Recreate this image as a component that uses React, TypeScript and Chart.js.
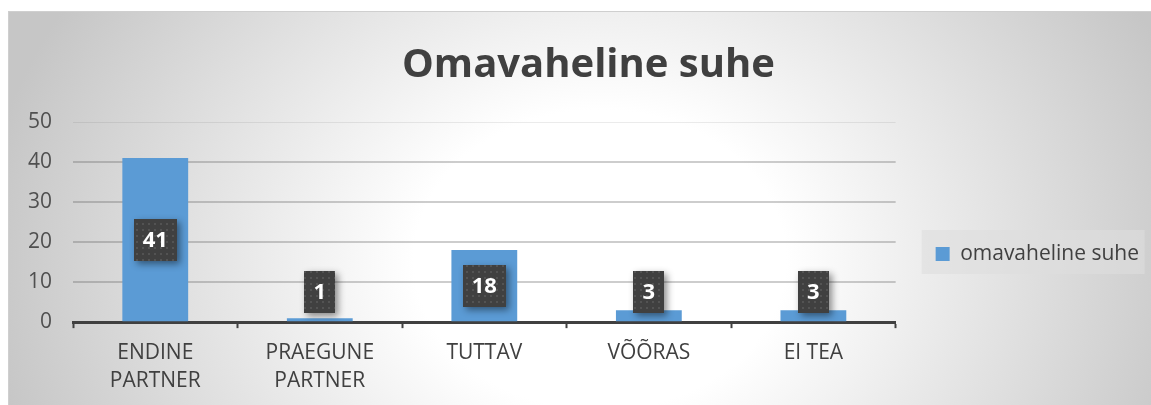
import React, { useEffect, useRef } from 'react';
import { Chart, registerables } from 'chart.js';

Chart.register(...registerables);

const titleText = 'Omavaheline suhe';
const seriesLabel = 'omavaheline suhe';
const categories: string[][] = [
  ['ENDINE', 'PARTNER'],
  ['PRAEGUNE', 'PARTNER'],
  ['TUTTAV'],
  ['VÕÕRAS'],
  ['EI TEA'],
];
const values: number[] = [41, 1, 18, 3, 3];
const yTicks: number[] = [0, 10, 20, 30, 40, 50];

const FONT = '"Open Sans", "DejaVu Sans", sans-serif';

function makePattern(ctx: CanvasRenderingContext2D) {
  const c = document.createElement('canvas');
  c.width = 6;
  c.height = 6;
  const p = c.getContext('2d')!;
  p.fillStyle = 'rgba(255,255,255,0.10)';
  p.fillRect(2, 2, 2, 2);
  return ctx.createPattern(c, 'repeat');
}

const legendBgPlugin = {
  id: 'legendBg',
  afterLayout(chart: any) {
    const l = chart.legend;
    if (!l) return;
    const target = 243;
    const shift = target - (l.top + l.bottom) / 2;
    l.top += shift;
    l.bottom += shift;
  },
  beforeDraw(chart: any) {
    const l = chart.legend;
    if (!l) return;
    const ctx = chart.ctx;
    const cy = (l.top + l.bottom) / 2;
    ctx.save();
    ctx.fillStyle = 'rgba(222,222,222,0.6)';
    ctx.fillRect(l.left + 26, cy - 24, 223, 44);
    ctx.restore();
  },
};

const boxLabelPlugin = {
  id: 'boxLabels',
  afterDatasetsDraw(chart: any) {
    const ctx: CanvasRenderingContext2D = chart.ctx;
    const meta = chart.getDatasetMeta(0);
    const pattern = makePattern(ctx);
    ctx.save();
    ctx.font = `bold 22px ${FONT}`;
    meta.data.forEach((bar: any, i: number) => {
      const text = String(chart.data.datasets[0].data[i]);
      const tw = ctx.measureText(text).width;
      const w = Math.round(tw + 18);
      const h = 42;
      const base = bar.base;
      let cy = (bar.y + base) / 2;
      cy = Math.min(cy, base - 8 - h / 2);
      const x = Math.round(bar.x - w / 2);
      const y = Math.round(cy - h / 2);
      ctx.save();
      ctx.shadowColor = 'rgba(0,0,0,0.45)';
      ctx.shadowBlur = 7;
      ctx.shadowOffsetX = 3;
      ctx.shadowOffsetY = 3;
      ctx.fillStyle = '#404040';
      ctx.fillRect(x, y, w, h);
      ctx.restore();
      if (pattern) {
        ctx.fillStyle = pattern;
        ctx.fillRect(x, y, w, h);
      }
      ctx.fillStyle = '#ffffff';
      ctx.textAlign = 'center';
      ctx.textBaseline = 'middle';
      ctx.fillText(text, bar.x, y + h / 2 + 1);
    });
    ctx.restore();
  },
};

export default function App() {
  const canvasRef = useRef<HTMLCanvasElement | null>(null);

  useEffect(() => {
    if (!canvasRef.current) return;
    const chart = new Chart(canvasRef.current, {
      type: 'bar',
      data: {
        labels: categories,
        datasets: [
          {
            label: seriesLabel,
            data: values,
            backgroundColor: '#5b9bd5',
            borderWidth: 0,
            barPercentage: 0.4,
            categoryPercentage: 1,
          },
        ],
      },
      options: {
        responsive: true,
        maintainAspectRatio: false,
        animation: false,
        layout: { padding: { left: 20, right: 2, top: 0, bottom: -1 } },
        plugins: {
          title: {
            display: true,
            text: titleText,
            color: '#404040',
            font: { family: FONT, size: 40, weight: 'bold', lineHeight: 1.2 },
            padding: { top: 31, bottom: 32 },
          },
          legend: {
            position: 'right',
            align: 'center',
            labels: {
              boxWidth: 14,
              boxHeight: 14,
              padding: 40,
              color: '#404040',
              font: { family: FONT, size: 21 },
            },
          },
          tooltip: { enabled: false },
        },
        scales: {
          x: {
            offset: true,
            grid: {
              offset: true,
              display: true,
              drawOnChartArea: false,
              drawTicks: true,
              tickLength: 6,
              tickColor: '#404040',
              tickWidth: 2,
            },
            border: { display: true, color: '#404040', width: 3 },
            ticks: {
              color: '#404040',
              padding: 11,
              maxRotation: 0,
              autoSkip: false,
              font: { family: FONT, size: 21, lineHeight: 1.33 },
            },
          },
          y: {
            min: yTicks[0],
            max: yTicks[yTicks.length - 1],
            ticks: {
              stepSize: yTicks[1] - yTicks[0],
              padding: 21,
              color: '#505050',
              font: { family: FONT, size: 21 },
            },
            grid: {
              drawTicks: false,
              color: (c: any) =>
                c.tick && c.tick.value === yTicks[yTicks.length - 1]
                  ? 'rgba(90,90,90,0.12)'
                  : 'rgba(90,90,90,0.3)',
              lineWidth: (c: any) =>
                c.tick && c.tick.value === yTicks[yTicks.length - 1] ? 1 : 2,
            },
            border: { display: false },
            afterFit: (s: any) => {
              s.width = 45;
            },
          },
        },
      },
      plugins: [legendBgPlugin, boxLabelPlugin],
    } as any);
    return () => chart.destroy();
  }, []);

  return (
    <div
      style={{
        position: 'fixed',
        left: 8,
        top: 11,
        width: 1143,
        height: 394,
        background:
          'radial-gradient(ellipse 620px 500px at 592px 249px, #ffffff 0%, #ffffff 30%, #c6c6c6 100%)',
        boxShadow: 'inset 1px 1px 0 #cfcfcf',
      }}
    >
      <canvas ref={canvasRef} />
    </div>
  );
}
